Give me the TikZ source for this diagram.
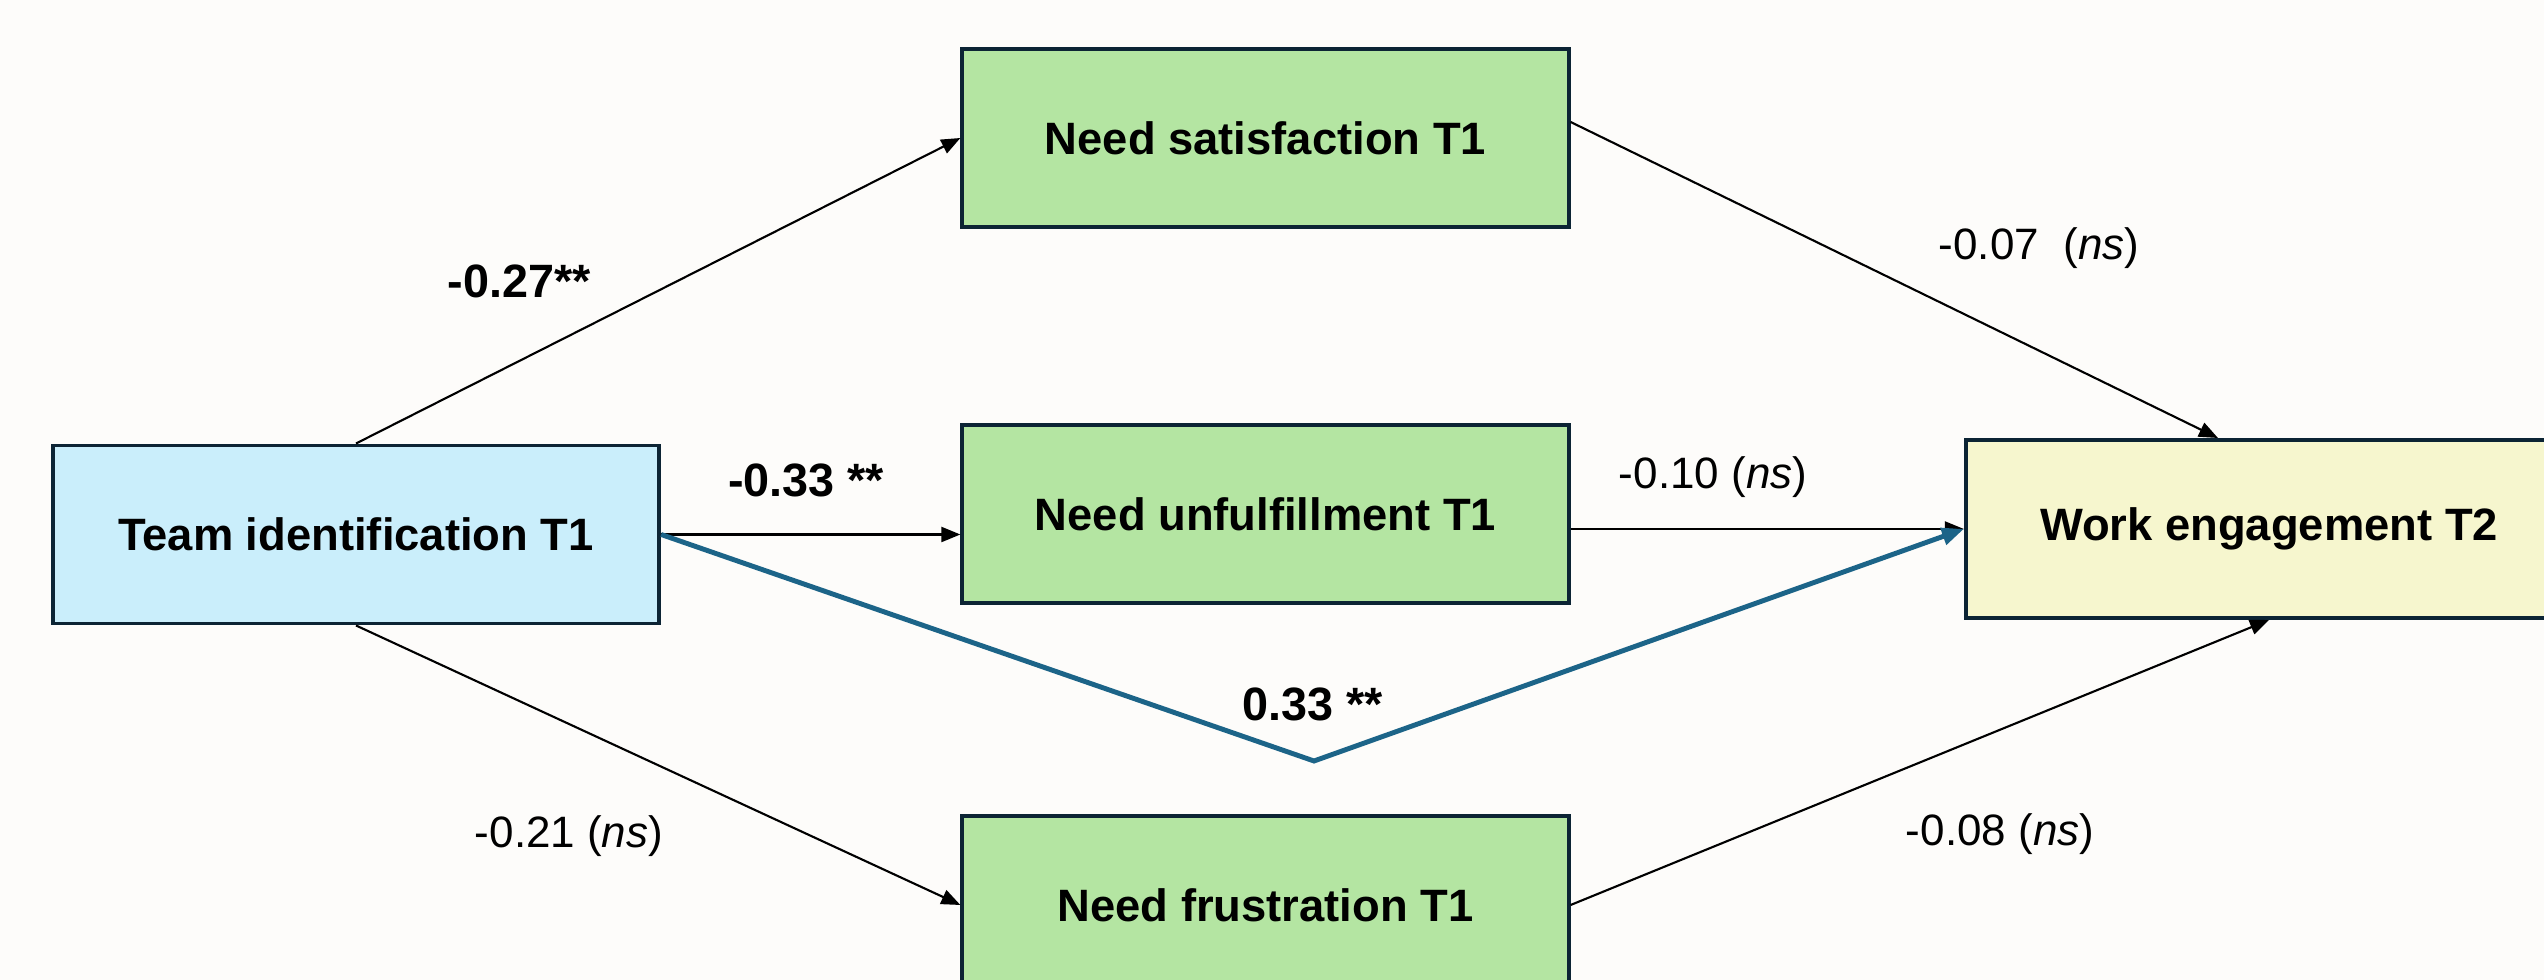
\documentclass[tikz,border=0pt]{standalone}
\usepackage{fontspec}
\setmainfont{Liberation Sans}
\usetikzlibrary{arrows.meta,calc}
\definecolor{bgc}{RGB}{253,252,250}
\definecolor{edgec}{RGB}{12,36,52}
\definecolor{teamc}{RGB}{202,238,251}
\definecolor{needc}{RGB}{180,229,162}
\definecolor{workc}{RGB}{246,246,206}
\definecolor{bluec}{RGB}{28,100,136}
\tikzset{
  box/.style={draw=edgec, line width=1.1pt, minimum width=6.06cm, minimum height=1.78cm,
    font=\bfseries\fontsize{12.9}{15}\selectfont, inner sep=0pt},
  conn/.style={draw=black, line width=0.6pt, -{Triangle[length=0.19cm,width=0.15cm]}},
  bconn/.style={draw=bluec, line width=1.4pt, line join=miter, -{Triangle[length=0.22cm,width=0.17cm]}},
  lab/.style={font=\fontsize{12.5}{14}\selectfont, inner sep=0pt},
  blab/.style={font=\bfseries\fontsize{13.3}{15}\selectfont, inner sep=0pt}
}
\begin{document}
\begin{tikzpicture}[x=0.01cm,y=-0.01cm]
\useasboundingbox (0,0) rectangle (2544,980);
\clip (0,0) rectangle (2544,980);
\fill[bgc] (0,0) rectangle (2544,980);

\node[box, fill=teamc] (team) at (356,534.5) {Team identification T1};
\node[box, fill=needc] (ns) at (1265.5,138) {Need satisfaction T1};
\node[box, fill=needc] (nu) at (1265.5,514) {Need unfulfillment T1};
\node[box, fill=needc] (nf) at (1265.5,905) {Need frustration T1};
\node[box, fill=workc] (we) at (2269,529) {Work engagement T2};

\coordinate (bend) at (1314,761);

\draw[conn] (team.north) -- (ns.west);
\draw[conn] (team.east) -- (team.east -| nu.west);
\draw[conn] (team.south) -- (nf.west);
\draw[conn] ($(ns.east)+(0,-16)$) -- ($(we.north)+(-51,0)$);
\draw[conn] (nu.east |- we.west) -- (we.west);
\draw[conn] (nf.east) -- (we.south);
\draw[bconn] (team.east) -- (bend) -- (we.west);

\node[blab] (l1) at (519,281) {-0.27**};
\node[blab] (l2) at (806,480) {-0.33 **};
\node[blab] (l3) at (1313,704) {0.33 **};
\node[lab] (l4) at (569,836) {-0.21 (\textit{ns})};
\node[lab] (l5) at (2039,248) {-0.07\ \ (\textit{ns})};
\node[lab] (l6) at (1713,477) {-0.10 (\textit{ns})};
\node[lab] (l7) at (2000,834) {-0.08 (\textit{ns})};
\end{tikzpicture}
\end{document}
